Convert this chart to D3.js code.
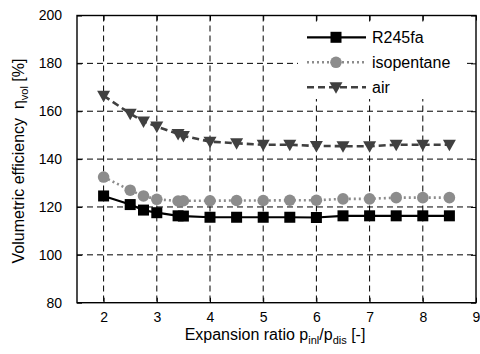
<!DOCTYPE html>
<html>
<head>
<meta charset="utf-8">
<script src="https://cdn.jsdelivr.net/npm/d3@7"></script>
<style>
  body { margin: 0; background: #fff; }
  svg { font-family: "Liberation Sans", Arial, sans-serif; }
</style>
</head>
<body>
<svg width="480" height="354"></svg>
<script>
// expansion ratios where the points were measured
var ratios = [2, 2.5, 2.75, 3, 3.4, 3.5, 4, 4.5, 5, 5.5, 6, 6.5, 7, 7.5, 8, 8.5];

var r245fa = [124.6, 121.0, 118.7, 117.6, 116.3, 116.2, 115.7, 115.7, 115.7, 115.7, 115.6, 116.3, 116.3, 116.3, 116.3, 116.3];
var isopentane = [132.5, 127.0, 124.6, 123.2, 122.5, 122.6, 122.6, 122.7, 122.7, 122.8, 122.8, 123.4, 123.4, 123.9, 123.9, 123.9];
var air = [166.5, 159.0, 155.7, 153.6, 150.5, 149.7, 147.3, 146.6, 146.0, 146.0, 145.5, 145.4, 145.4, 146.0, 146.0, 146.0];

var xTicks = [2, 3, 4, 5, 6, 7, 8, 9];
var yTicks = [80, 100, 120, 140, 160, 180, 200];

var series = [
  {name: "R245fa", values: r245fa, color: "#000", dash: null, width: 2.2, marker: "square"},
  {name: "isopentane", values: isopentane, color: "#8c8c8c", dash: "2,3", width: 2.6, marker: "circle"},
  {name: "air", values: air, color: "#404040", dash: "7,4", width: 2.6, marker: "triangle"}
];

var svg = d3.select("svg");
var pL = 77, pR = 476, pT = 15.5, pB = 302.7;

var x = d3.scaleLinear().domain([1.5, 9]).range([pL, pR]);
var y = d3.scaleLinear().domain([80, 200]).range([pB, pT]);

// grid
var grid = svg.append("g");
grid.selectAll("line.v").data(xTicks.filter(function(d){ return d < 9; }))
  .enter().append("line")
  .attr("x1", function(d){ return x(d); }).attr("x2", function(d){ return x(d); })
  .attr("y1", pT).attr("y2", pB)
  .style("stroke", "#000").style("stroke-width", 1).style("stroke-dasharray", "6,4");
grid.selectAll("line.h").data(yTicks.filter(function(d){ return d > 80 && d < 200; }))
  .enter().append("line")
  .attr("y1", function(d){ return y(d); }).attr("y2", function(d){ return y(d); })
  .attr("x1", pL).attr("x2", pR)
  .style("stroke", "#000").style("stroke-width", 1).style("stroke-dasharray", "6,4");

// axes
var xAxis = svg.append("g").attr("transform", "translate(0," + pB + ")")
  .call(d3.axisBottom(x).tickValues(xTicks).tickSize(-5).tickPadding(9));
var xTop = svg.append("g").attr("transform", "translate(0," + pT + ")")
  .call(d3.axisTop(x).tickValues(xTicks).tickSize(-5).tickFormat(""));
var yAxis = svg.append("g").attr("transform", "translate(" + pL + ",0)")
  .call(d3.axisLeft(y).tickValues(yTicks).tickSize(-5).tickPadding(15));
var yRight = svg.append("g").attr("transform", "translate(" + pR + ",0)")
  .call(d3.axisRight(y).tickValues(yTicks).tickSize(-5).tickFormat(""));

[xAxis, xTop, yAxis, yRight].forEach(function(a){
  a.select(".domain").remove();
  a.selectAll("line").style("stroke", "#000");
  a.selectAll("text").style("font-size", "14px").style("fill", "#000")
    .style("font-family", "'Liberation Sans', Arial, sans-serif");
});

svg.append("rect").attr("x", pL).attr("y", pT)
  .attr("width", pR - pL).attr("height", pB - pT)
  .style("fill", "none").style("stroke", "#000").style("stroke-width", 1.4);

function drawMarker(g, type, color) {
  if (type === "square") {
    g.append("rect").attr("x", -5.5).attr("y", -5.5).attr("width", 11).attr("height", 11).style("fill", color);
  } else if (type === "circle") {
    g.append("circle").attr("r", 5.8).style("fill", color);
  } else {
    g.append("path").attr("d", "M-6.5,-5 L6.5,-5 L0,6.5 Z").style("fill", color);
  }
}

series.forEach(function(s){
  var line = d3.line().x(function(d, i){ return x(ratios[i]); }).y(function(d){ return y(d); });
  svg.append("path").datum(s.values).attr("d", line)
    .style("fill", "none").style("stroke", s.color).style("stroke-width", s.width)
    .style("stroke-dasharray", s.dash);
  s.values.forEach(function(v, i){
    var g = svg.append("g").attr("transform", "translate(" + x(ratios[i]) + "," + y(v) + ")");
    drawMarker(g, s.marker, s.color);
  });
});

// legend
var legend = svg.append("g");
legend.append("rect").attr("x", 298).attr("y", 23).attr("width", 166).attr("height", 76).style("fill", "#fff");
series.forEach(function(s, i){
  var ly = 37.3 + i * 25;
  legend.append("line").attr("x1", 307).attr("x2", 366).attr("y1", ly).attr("y2", ly)
    .style("stroke", s.color).style("stroke-width", s.width).style("stroke-dasharray", s.dash);
  var g = legend.append("g").attr("transform", "translate(336," + ly + ")");
  drawMarker(g, s.marker, s.color);
  legend.append("text").attr("x", 372).attr("y", ly + 5.5).text(s.name)
    .style("font-size", "16px");
});

// axis titles
var xt = svg.append("text").attr("x", 275).attr("y", 340).attr("text-anchor", "middle").style("font-size", "16px");
xt.append("tspan").text("Expansion ratio p");
xt.append("tspan").attr("dy", 4).style("font-size", "11px").text("inl");
xt.append("tspan").attr("dy", -4).text("/p");
xt.append("tspan").attr("dy", 4).style("font-size", "11px").text("dis");
xt.append("tspan").attr("dy", -4).text(" [-]");

var yt = svg.append("text").attr("transform", "translate(24,161) rotate(-90)")
  .attr("text-anchor", "middle").style("font-size", "16px");
yt.append("tspan").text("Volumetric efficiency \u00a0\u03b7");
yt.append("tspan").attr("dy", 4).style("font-size", "11px").text("vol");
yt.append("tspan").attr("dy", -4).text(" [%]");
</script>
</body>
</html>
